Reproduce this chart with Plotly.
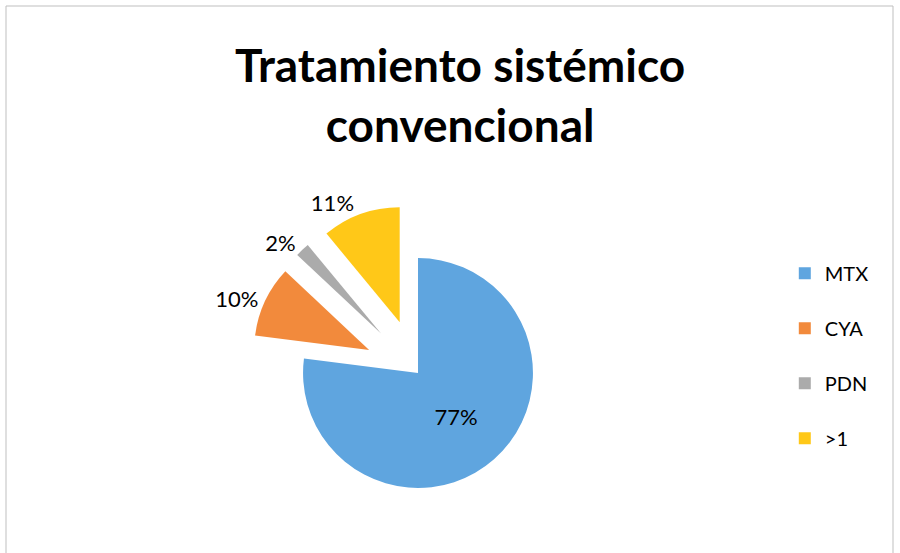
import plotly.graph_objects as go

labels = ["MTX", "CYA", "PDN", ">1"]
values = [77, 10, 2, 11]
colors = ["#5fa5df", "#f28a3c", "#ababab", "#ffc818"]
pulls = [0, 0.47, 0.47, 0.47]
text_pos = ["inside", "outside", "outside", "outside"]

fig = go.Figure(go.Pie(
    labels=[l + "<br> " for l in labels],
    values=values,
    sort=False,
    direction="clockwise",
    rotation=0,
    pull=pulls,
    marker=dict(colors=colors, line=dict(width=0)),
    textinfo="percent",
    texttemplate="%{percent:.0%}",
    textposition=text_pos,
    insidetextfont=dict(color="#000000", size=22),
    outsidetextfont=dict(color="#000000", size=22),
    domain=dict(x=[0.2767, 0.6522], y=[0.0199, 0.6311]),
    hoverinfo="label+percent",
))

fig.update_layout(
    width=900,
    height=553,
    margin=dict(l=0, r=0, t=0, b=0, autoexpand=False),
    paper_bgcolor="white",
    plot_bgcolor="white",
    font=dict(family="Lato, Liberation Sans, sans-serif", color="#000000"),
    legend=dict(
        x=0.872, xanchor="left",
        y=0.333, yanchor="middle",
        font=dict(size=20),
        valign="top",
        itemwidth=30,
    ),
    annotations=[dict(
        text="<b>Tratamiento sistémico<br>convencional</b>",
        xref="paper", yref="paper",
        x=460 / 900, xanchor="center",
        y=1 - 95 / 553, yanchor="middle",
        showarrow=False,
        font=dict(size=46, family="Lato, sans-serif", color="#000000"),
    )],
    shapes=[dict(
        type="rect", xref="paper", yref="paper",
        x0=6 / 900, x1=893 / 900, y0=-0.05, y1=1 - 6 / 553,
        line=dict(color="#bfbfbf", width=1),
    )],
)

fig.write_html(
    "out.html",
    config={"displayModeBar": False},
    post_script="document.body.style.margin='0';",
)
